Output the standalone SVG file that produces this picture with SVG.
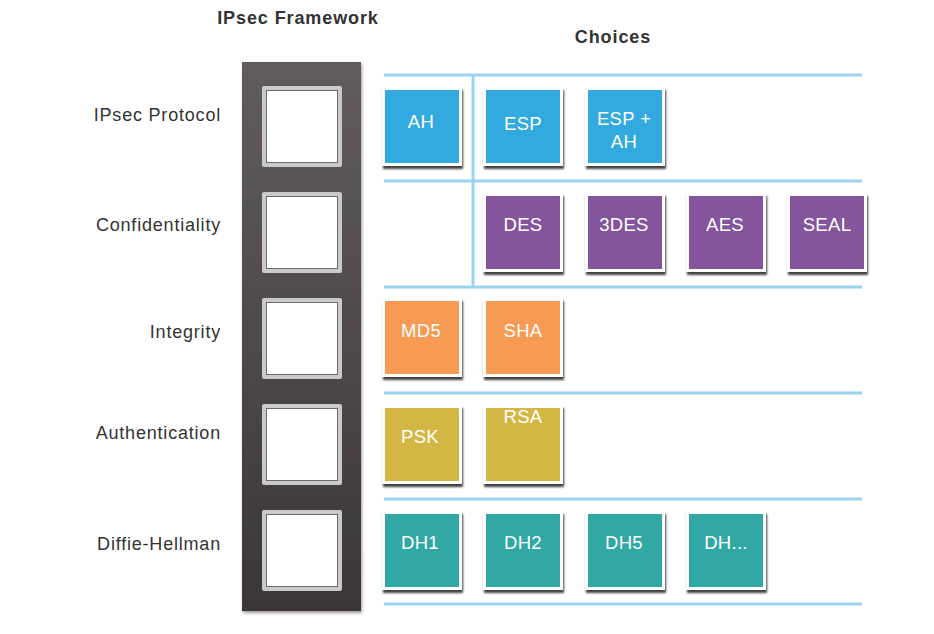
<svg xmlns="http://www.w3.org/2000/svg" width="934" height="634" viewBox="0 0 934 634">
<defs>
<linearGradient id="colg" x1="0" y1="0" x2="0" y2="1">
<stop offset="0" stop-color="#615c5d"/>
<stop offset="1" stop-color="#3b3637"/>
</linearGradient>
<filter id="sh" x="-10%" y="-10%" width="130%" height="130%">
<feDropShadow dx="1" dy="3" stdDeviation="1.2" flood-color="#000" flood-opacity="0.75"/>
</filter>
<filter id="csh" x="-10%" y="-5%" width="130%" height="110%">
<feDropShadow dx="1" dy="2" stdDeviation="1.5" flood-color="#000" flood-opacity="0.4"/>
</filter>
</defs>
<style>
.title{font-family:"Liberation Sans",Arial,sans-serif;font-weight:bold;font-size:18px;letter-spacing:0.9px;fill:#333;text-anchor:middle}
.lab{font-family:"Liberation Sans",Arial,sans-serif;font-size:18px;letter-spacing:0.8px;fill:#333;text-anchor:end}
.tt{font-family:"Liberation Sans",Arial,sans-serif;font-size:18.5px;letter-spacing:0.3px;fill:#fff;text-anchor:middle}
.tile{fill:#fff}
.blue{fill:#33aadf}
.purple{fill:#84559c}
.orange{fill:#f79a52}
.yellow{fill:#d3b744}
.teal{fill:#33a8a4}
.line{stroke:#9bd4ef;stroke-width:3;fill:none}
.frame{fill:#cacaca}
.hole{fill:#fff;stroke:#6a6a6a;stroke-width:1}
</style>
<rect width="934" height="634" fill="#fff"/>
<text class="title" x="298" y="24">IPsec Framework</text>
<text class="title" x="613" y="43">Choices</text>

<g id="labels">
<text class="lab" x="221" y="121">IPsec Protocol</text>
<text class="lab" x="221" y="231">Confidentiality</text>
<text class="lab" x="221" y="338">Integrity</text>
<text class="lab" x="221" y="439">Authentication</text>
<text class="lab" x="221" y="550">Diffie-Hellman</text>
</g>

<g id="framework">
<rect x="242" y="62" width="119" height="549" fill="url(#colg)" filter="url(#csh)"/>
<rect class="frame" x="262" y="86" width="80" height="81" rx="2"/>
<rect class="hole" x="266.5" y="90.5" width="71" height="72"/>
<rect class="frame" x="262" y="192" width="80" height="81" rx="2"/>
<rect class="hole" x="266.5" y="196.5" width="71" height="72"/>
<rect class="frame" x="262" y="298" width="80" height="81" rx="2"/>
<rect class="hole" x="266.5" y="302.5" width="71" height="72"/>
<rect class="frame" x="262" y="404" width="80" height="81" rx="2"/>
<rect class="hole" x="266.5" y="408.5" width="71" height="72"/>
<rect class="frame" x="262" y="510" width="80" height="81" rx="2"/>
<rect class="hole" x="266.5" y="514.5" width="71" height="72"/>
</g>

<g id="connectors">
<line class="line" x1="384" y1="75" x2="862" y2="75"/>
<line class="line" x1="384" y1="181" x2="862" y2="181"/>
<line class="line" x1="384" y1="287" x2="862" y2="287"/>
<line class="line" x1="384" y1="393" x2="862" y2="393"/>
<line class="line" x1="384" y1="499" x2="862" y2="499"/>
<line class="line" x1="384" y1="604" x2="862" y2="604"/>
<line class="line" x1="473" y1="75" x2="473" y2="287"/>
</g>

<g id="protocol">
<g id="ah" filter="url(#sh)"><rect class="tile" x="382" y="87" width="80" height="79"/><rect class="blue" x="385" y="90" width="74" height="73"/></g>
<text class="tt" x="421" y="128">AH</text>
<g id="esp" filter="url(#sh)"><rect class="tile" x="483" y="87" width="80" height="79"/><rect class="blue" x="486" y="90" width="74" height="73"/></g>
<text class="tt" x="523" y="130">ESP</text>
<g id="espah" filter="url(#sh)"><rect class="tile" x="585" y="87" width="80" height="79"/><rect class="blue" x="588" y="90" width="74" height="73"/></g>
<text class="tt" x="624" y="125">ESP +</text>
<text class="tt" x="624" y="148">AH</text>
</g>

<g id="confidentiality">
<g filter="url(#sh)"><rect class="tile" x="483" y="193" width="80" height="79"/><rect class="purple" x="486" y="196" width="74" height="73"/></g>
<text class="tt" x="523" y="231">DES</text>
<g filter="url(#sh)"><rect class="tile" x="585" y="193" width="80" height="79"/><rect class="purple" x="588" y="196" width="74" height="73"/></g>
<text class="tt" x="624" y="231">3DES</text>
<g filter="url(#sh)"><rect class="tile" x="686" y="193" width="80" height="79"/><rect class="purple" x="689" y="196" width="74" height="73"/></g>
<text class="tt" x="725" y="231">AES</text>
<g filter="url(#sh)"><rect class="tile" x="787" y="193" width="80" height="79"/><rect class="purple" x="790" y="196" width="74" height="73"/></g>
<text class="tt" x="827" y="231">SEAL</text>
</g>

<g id="integrity">
<g filter="url(#sh)"><rect class="tile" x="382" y="298" width="80" height="79"/><rect class="orange" x="385" y="301" width="74" height="73"/></g>
<text class="tt" x="421" y="337">MD5</text>
<g filter="url(#sh)"><rect class="tile" x="483" y="298" width="80" height="79"/><rect class="orange" x="486" y="301" width="74" height="73"/></g>
<text class="tt" x="523" y="337">SHA</text>
</g>

<g id="authentication">
<g filter="url(#sh)"><rect class="tile" x="382" y="405" width="80" height="79"/><rect class="yellow" x="385" y="408" width="74" height="73"/></g>
<text class="tt" x="420" y="443">PSK</text>
<g filter="url(#sh)"><rect class="tile" x="483" y="405" width="80" height="79"/><rect class="yellow" x="486" y="408" width="74" height="73"/></g>
<text class="tt" x="523" y="423">RSA</text>
</g>

<g id="dh">
<g filter="url(#sh)"><rect class="tile" x="382" y="511" width="80" height="79"/><rect class="teal" x="385" y="514" width="74" height="73"/></g>
<text class="tt" x="420" y="549">DH1</text>
<g filter="url(#sh)"><rect class="tile" x="483" y="511" width="80" height="79"/><rect class="teal" x="486" y="514" width="74" height="73"/></g>
<text class="tt" x="523" y="549">DH2</text>
<g filter="url(#sh)"><rect class="tile" x="585" y="511" width="80" height="79"/><rect class="teal" x="588" y="514" width="74" height="73"/></g>
<text class="tt" x="624" y="549">DH5</text>
<g filter="url(#sh)"><rect class="tile" x="686" y="511" width="80" height="79"/><rect class="teal" x="689" y="514" width="74" height="73"/></g>
<text class="tt" x="726" y="549">DH...</text>
</g>
</svg>
